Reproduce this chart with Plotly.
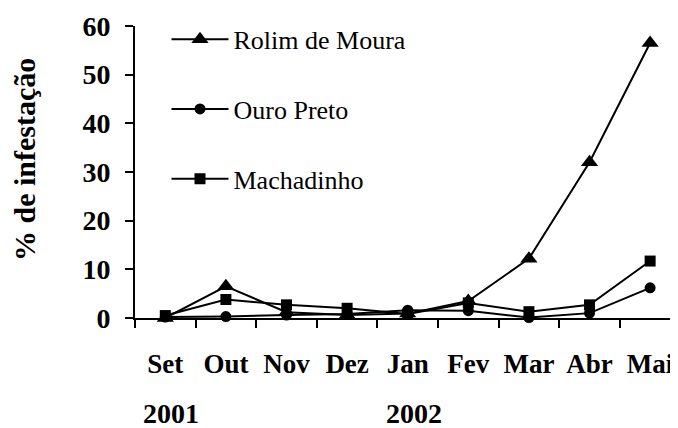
import plotly.graph_objects as go

months = ["Set", "Out", "Nov", "Dez", "Jan", "Fev", "Mar", "Abr", "Mai"]
rolim = [0.0, 6.5, 1.2, 0.6, 0.9, 3.5, 12.2, 32.0, 56.5]
ouro = [0.2, 0.3, 0.6, 0.8, 1.6, 1.5, 0.1, 1.0, 6.2]
machadinho = [0.5, 3.8, 2.7, 2.0, 0.8, 3.1, 1.3, 2.7, 11.7]
years = ["2001", "2002"]
year_pos = ["Set", "Jan"]

FONT = "Liberation Serif, Times New Roman, Tinos, serif"
fig = go.Figure()
series = [
    ("Rolim de Moura", rolim, "triangle-up", 15),
    ("Ouro Preto", ouro, "circle", 11),
    ("Machadinho", machadinho, "square", 11),
]
for i, (name, vals, sym, sz) in enumerate(series):
    fig.add_trace(go.Scatter(
        x=months, y=vals, name=name, mode="lines+markers",
        line=dict(color="black", width=2),
        marker=dict(symbol=sym, size=sz, color="black"),
        cliponaxis=False, legendgroup=f"g{i}",
    ))

# page has an 8px body margin, so the figure is offset by (8, 8)
L, R, T, B = 127, 0, 18, 110
W, H = 670, 420
pw, ph = W - L - R, H - T - B

fig.update_layout(
    width=W, height=H,
    margin=dict(l=L, r=R, t=T, b=B),
    paper_bgcolor="white", plot_bgcolor="white",
    font=dict(family=FONT, color="black", size=26),
    showlegend=True,
    legend=dict(x=0.058, y=1.035, xanchor="left", yanchor="top",
                bgcolor="rgba(0,0,0,0)", tracegroupgap=33, itemwidth=57,
                font=dict(family=FONT, size=26, color="black", weight="normal")),
    xaxis=dict(type="category", range=[-0.5, 8.46], showline=True, linecolor="black",
               linewidth=2, ticks="outside", tickson="boundaries", ticklen=8,
               tickwidth=2, tickcolor="black", showgrid=False, zeroline=False,
               automargin=False, tickangle=0, ticklabeloverflow="allow",
               tickfont=dict(family=FONT, size=27, weight="bold"), ticklabelstandoff=21),
    yaxis=dict(range=[0, 60], tickvals=[0, 10, 20, 30, 40, 50, 60], showline=True,
               linecolor="black", linewidth=2, ticks="outside", ticklen=8, tickwidth=2,
               tickcolor="black", showgrid=False, zeroline=False, automargin=False,
               tickfont=dict(family=FONT, size=28, weight="bold"), ticklabelstandoff=9),
)
for yr, pos in zip(years, year_pos):
    fig.add_annotation(x=pos, y=0, xref="x", yref="paper", yshift=-95, xshift=6,
                       yanchor="middle", text=yr, showarrow=False,
                       font=dict(family=FONT, size=28, weight="bold"))
fig.add_annotation(x=(17 - L) / pw, y=(310 - 152) / ph, xref="paper", yref="paper",
                   xanchor="center", yanchor="middle", text="% de infestação",
                   textangle=-90, showarrow=False,
                   font=dict(family=FONT, size=30, weight="bold"))
fig.write_html("out.html")
